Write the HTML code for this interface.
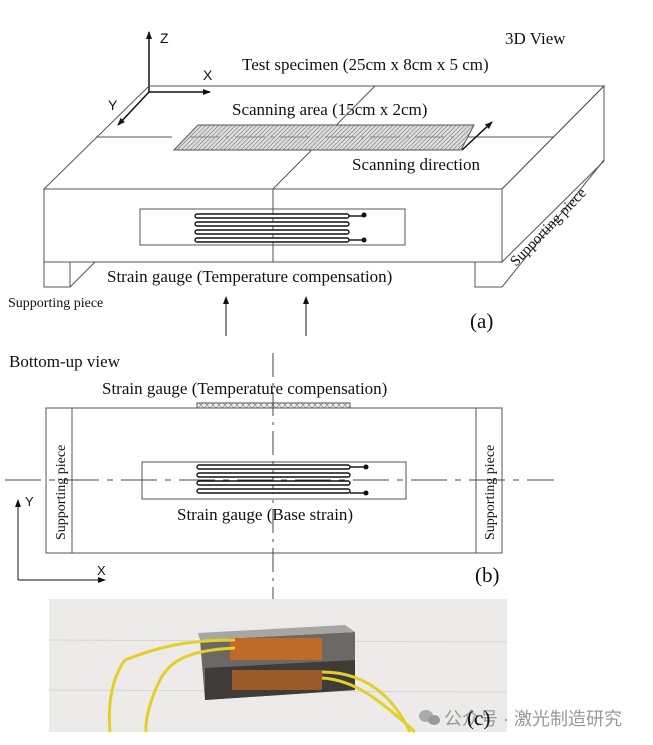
<!DOCTYPE html>
<html><head><meta charset="utf-8"><style>
html,body{margin:0;padding:0;background:#fff;}
svg{display:block;}
text{font-family:"Liberation Serif",serif;fill:#111;}
.s{font-family:"Liberation Sans",sans-serif;}
</style></head><body>
<svg width="653" height="745" viewBox="0 0 653 745" xmlns="http://www.w3.org/2000/svg">
<defs>
<pattern id="h" width="3" height="3" patternUnits="userSpaceOnUse" patternTransform="rotate(45)">
<rect width="3" height="3" fill="#ddd"/><line x1="0" y1="0" x2="0" y2="3" stroke="#666" stroke-width="1"/></pattern>
<pattern id="h2" width="6" height="6" patternUnits="userSpaceOnUse">
<rect width="6" height="6" fill="#eee"/><path d="M0 6L6 0M0 0L6 6" stroke="#777" stroke-width="0.6"/></pattern>
<marker id="a" markerWidth="8" markerHeight="8" refX="7" refY="4" orient="auto" markerUnits="userSpaceOnUse"><path d="M0 1L8 4L0 7z" fill="#111"/></marker>
</defs>
<g stroke="#555" stroke-width="1" fill="none">
<line x1="149" y1="92" x2="149" y2="32" stroke="#111" stroke-width="1.5" marker-end="url(#a)"/>
<line x1="149" y1="92" x2="210" y2="92" stroke="#111" stroke-width="1.5" marker-end="url(#a)"/>
<line x1="149" y1="92" x2="118" y2="125" stroke="#111" stroke-width="1.5" marker-end="url(#a)"/>
<polygon points="149,86 604,86 502,189 44,189"/>
<polygon points="502,189 604,86 604,161 502,262"/>
<rect x="44" y="189" width="458" height="73"/>
<polyline points="44,262 44,287 70,287 70,262"/>
<line x1="70" y1="287" x2="95" y2="262"/>
<polyline points="475,262 475,287 502,287"/>
<line x1="502" y1="287" x2="604" y2="160"/>
<line x1="96" y1="137" x2="172" y2="137"/>
<line x1="460" y1="137" x2="553" y2="137"/>
<line x1="375" y1="86" x2="273" y2="189"/>
<line x1="273" y1="189" x2="273" y2="262"/>
<polygon points="174,150 198,125 474,125 461,150" fill="url(#h)" stroke="#555"/>
<line x1="190" y1="137" x2="455" y2="137" stroke="#888" stroke-dasharray="30,6,3,6"/>
<line x1="462" y1="150" x2="492" y2="122" stroke="#111" stroke-width="1.5" marker-end="url(#a)"/>
<rect x="140" y="209" width="265" height="36"/>
<g stroke="#111" stroke-width="1.4" fill="#fff">
<rect x="195" y="214" width="154" height="4" rx="2"/><rect x="195" y="222" width="154" height="4" rx="2"/>
<rect x="195" y="230" width="154" height="4" rx="2"/><rect x="195" y="238" width="154" height="4" rx="2"/>
<polyline points="349,216 364,216" fill="none"/><polyline points="349,240 364,240" fill="none"/>
</g>
<circle cx="364" cy="215" r="2.5" fill="#111" stroke="none"/><circle cx="364" cy="240" r="2.5" fill="#111" stroke="none"/>
<line x1="226" y1="336" x2="226" y2="297" stroke="#111" marker-end="url(#a)"/>
<line x1="306" y1="336" x2="306" y2="297" stroke="#111" marker-end="url(#a)"/>
<rect x="197" y="403" width="153" height="5" fill="url(#h2)"/>
<rect x="46" y="408" width="456" height="145"/>
<line x1="72" y1="408" x2="72" y2="553"/>
<line x1="476" y1="408" x2="476" y2="553"/>
<line x1="273" y1="353" x2="273" y2="600" stroke="#444" stroke-dasharray="24,6,3,6"/>
<line x1="5" y1="480" x2="554" y2="480" stroke="#444" stroke-dasharray="36,8,6,8"/>
<rect x="142" y="462" width="264" height="37" fill="none"/>
<g stroke="#111" stroke-width="1.4" fill="#fff">
<rect x="197" y="465" width="153" height="4" rx="2"/><rect x="197" y="473" width="153" height="4" rx="2"/>
<rect x="197" y="481" width="153" height="4" rx="2"/><rect x="197" y="489" width="153" height="4" rx="2"/>
<polyline points="350,467 366,467" fill="none"/><polyline points="350,493 366,493" fill="none"/>
</g>
<circle cx="366" cy="467" r="2.5" fill="#111" stroke="none"/><circle cx="366" cy="493" r="2.5" fill="#111" stroke="none"/>
<polyline points="18,580 18,500" stroke="#111" marker-end="url(#a)"/>
<line x1="18" y1="580" x2="105" y2="580" stroke="#111" marker-end="url(#a)"/>
</g>
<text class="s" x="160" y="43" font-size="14">Z</text>
<text class="s" x="203" y="80" font-size="14">X</text>
<text class="s" x="108" y="110" font-size="14">Y</text>
<text x="505" y="44" font-size="17">3D View</text>
<text x="242" y="70" font-size="17">Test specimen (25cm x 8cm x 5 cm)</text>
<text x="232" y="115" font-size="17">Scanning area (15cm x 2cm)</text>
<text x="352" y="170" font-size="17">Scanning direction</text>
<text x="107" y="282" font-size="17">Strain gauge (Temperature compensation)</text>
<text x="516" y="267" font-size="15" transform="rotate(-46 516 267)">Supporting piece</text>
<text x="8" y="307" font-size="14">Supporting piece</text>
<text x="470" y="328" font-size="21">(a)</text>
<text x="9" y="367" font-size="17">Bottom-up view</text>
<text x="102" y="394" font-size="17">Strain gauge (Temperature compensation)</text>
<text x="177" y="520" font-size="17">Strain gauge (Base strain)</text>
<text x="65" y="540" font-size="14" transform="rotate(-90 65 540)">Supporting piece</text>
<text x="494" y="540" font-size="14" transform="rotate(-90 494 540)">Supporting piece</text>
<text class="s" x="25" y="506" font-size="13">Y</text>
<text class="s" x="97" y="575" font-size="13">X</text>
<text x="475" y="582" font-size="21">(b)</text>
<rect x="49" y="599" width="458" height="133" fill="#ecebea"/>
<line x1="49" y1="640" x2="507" y2="642" stroke="#d5d5d5"/>
<line x1="49" y1="690" x2="507" y2="692" stroke="#d5d5d5"/>
<polygon points="200,640 355,632 355,690 205,700" fill="#6b6966"/>
<polygon points="200,640 355,632 345,625 198,633" fill="#a8a6a2"/>
<polygon points="205,668 355,660 355,690 205,700" fill="#3e3b38"/>
<rect x="230" y="638" width="92" height="22" fill="#c06a2a"/>
<rect x="232" y="670" width="90" height="20" fill="#9a5a2a"/>
<g stroke="#e4cf2a" stroke-width="3" fill="none">
<path d="M235 640C180 640 150 650 125 660C110 680 108 710 110 732"/>
<path d="M235 648C190 650 170 660 160 680C150 700 145 720 146 732"/>
<path d="M322 672C360 672 390 690 410 732"/>
<path d="M322 678C355 680 380 700 415 732"/>
</g>
<ellipse cx="426" cy="716" rx="7" ry="6" fill="#aaa"/><ellipse cx="434" cy="720" rx="6" ry="5" fill="#999"/>
<text x="444" y="725" font-size="18" style="font-family:'Liberation Sans','Noto Sans CJK SC',sans-serif;fill:#999">公众号 · 激光制造研究</text>
<text x="467" y="725" font-size="21">(c)</text>
</svg>
</body></html>
